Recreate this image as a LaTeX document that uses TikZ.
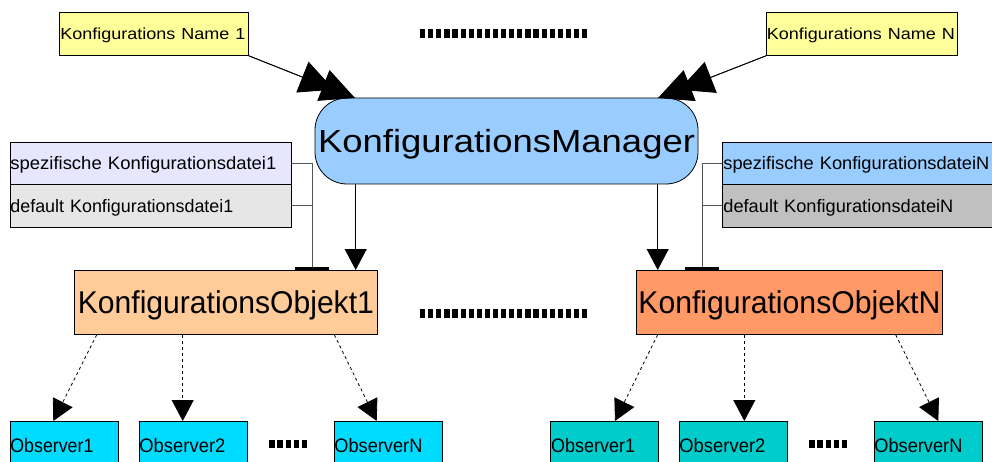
\documentclass[tikz,border=0pt]{standalone}
\usepackage{fontspec}
\setmainfont{Liberation Sans}
\usetikzlibrary{arrows.meta,calc}

% fit a text horizontally to a given width (in pt)
\newlength\fitlen
\newcommand\fitbox[2]{\settowidth\fitlen{#2}\pgfmathsetmacro\fitsx{#1/\fitlen}\scalebox{\fitsx}[1]{#2}}

\definecolor{nameY}{HTML}{FFFF99}
\definecolor{mgrB}{HTML}{99CCFF}
\definecolor{fileL}{HTML}{E6E6FF}
\definecolor{fileG}{HTML}{E6E6E6}
\definecolor{fileS}{HTML}{C0C0C0}
\definecolor{objA}{HTML}{FFCC99}
\definecolor{objB}{HTML}{FF9966}
\definecolor{obsA}{HTML}{00DCFF}
\definecolor{obsB}{HTML}{00CCCC}
\definecolor{connG}{HTML}{555555}

\tikzset{
  box/.style={draw=black, line width=0.8pt, inner sep=0pt, text depth=0pt, anchor=north west},
  namebox/.style={box, fill=nameY, minimum height=43pt, align=left, text height=11.5pt,
    font=\fontsize{16pt}{16pt}\selectfont},
  filebox/.style={box, text width=#1, align=left, text height=13pt,
    font=\fontsize{18pt}{18pt}\selectfont},
  objbox/.style={box, minimum width=#1, minimum height=64pt, text height=22.6pt,
    font=\fontsize{31.5pt}{31.5pt}\selectfont},
  obsbox/.style={box, text width=108pt, minimum height=49pt, align=left, text height=14pt,
    font=\fontsize{19.5pt}{19.5pt}\selectfont},
  arr/.style={draw=black, line width=0.8pt},
  bigtip/.style={arr, -{Triangle[length=34pt,width=33pt]}},
  downtip/.style={arr, -{Triangle[length=21pt,width=22pt]}},
  dasharr/.style={arr, dash pattern=on 3pt off 3pt, -{Triangle[length=21pt,width=22pt]}},
  fileconn/.style={draw=connG, line width=0.9pt},
  barend/.style={fileconn, -{Bar[width=34pt,line width=3.5pt,color=black]}},
  ellip/.style={draw=black, dash pattern=on 5.2pt off 2.9pt},
}

\begin{document}
\begin{tikzpicture}[x=1pt,y=-1pt]
\useasboundingbox (0,0) rectangle (992,462);
\clip (0,0) rectangle (992,462);

% configuration names
\node[namebox, text width=189pt] (n1) at (59,12) {\hspace*{1pt}\fitbox{185}{Konfigurations Name 1}};
\node[namebox, text width=191pt] (nN) at (766,12) {\hspace*{0.5pt}\fitbox{188}{Konfigurations Name N}};

% manager
\node[draw=black, line width=0.8pt, fill=mgrB, rounded corners=32pt, minimum width=383pt,
  minimum height=86pt, inner sep=0pt, text height=23pt, text depth=0pt,
  font=\fontsize{32pt}{32pt}\selectfont] (m) at (506.5,141) {\fitbox{377}{KonfigurationsManager}};

% configuration files
\node[filebox=281pt, fill=fileL, minimum height=42pt] (f1s) at (10,142) {\fitbox{266}{spezifische Konfigurationsdatei1}};
\node[filebox=281pt, fill=fileG, minimum height=43pt] (f1d) at (10,184) {\fitbox{223}{default Konfigurationsdatei1}};
\node[filebox=276pt, fill=mgrB, minimum height=42pt] (fNs) at (722,142) {\hspace*{1pt}\fitbox{266}{spezifische KonfigurationsdateiN}};
\node[filebox=276pt, fill=fileS, minimum height=43pt] (fNd) at (722,184) {\hspace*{1pt}\fitbox{230}{default KonfigurationsdateiN}};

% configuration objects
\node[objbox=303pt, fill=objA] (o1) at (74,270) {\fitbox{296}{KonfigurationsObjekt1}};
\node[objbox=306pt, fill=objB] (oN) at (636,270) {\fitbox{302}{KonfigurationsObjektN}};

% observers
\node[obsbox, fill=obsA] (ol1) at (10,421)  {\fitbox{83}{Observer1}};
\node[obsbox, fill=obsA] (ol2) at (139,421) {\fitbox{86}{Observer2}};
\node[obsbox, fill=obsA] (olN) at (334,421) {\fitbox{88}{ObserverN}};
\node[obsbox, fill=obsB] (or1) at (550,421) {\hspace*{0.7pt}\fitbox{84}{Observer1}};
\node[obsbox, fill=obsB] (or2) at (679,421) {\fitbox{86}{Observer2}};
\node[obsbox, fill=obsB] (orN) at (874,421) {\fitbox{88}{ObserverN}};

% names -> manager (double heads)
\coordinate (t1) at (355,98);
\coordinate (tN) at (658,98);
\draw[bigtip] (n1.south east) -- (t1);
\draw[bigtip, shorten >=22.6pt] (n1.south east) -- (t1);
\draw[bigtip] (nN.south west) -- (tN);
\draw[bigtip, shorten >=22.6pt] (nN.south west) -- (tN);

% manager -> objects
\coordinate (xa1) at (355.7,0);
\coordinate (xaN) at (657.7,0);
\draw[downtip] (m.south -| xa1) -- (o1.north -| xa1);
\draw[downtip] (m.south -| xaN) -- (oN.north -| xaN);

% files -> objects
\coordinate (j1) at (312,163);
\coordinate (jN) at (702,163);
\draw[barend] (f1s.east) -| (o1.north -| j1);
\draw[fileconn] (f1d.east) -- (f1d.east -| j1);
\draw[barend] (fNs.west) -| (oN.north -| jN);
\draw[fileconn] (fNd.west) -- (fNd.west -| jN);

% objects -> observers
\draw[dasharr] ($(o1.south west)+(22.7,0)$)  -- ($(ol1.north west)+(43.3,0)$);
\draw[dasharr] ($(o1.south west)+(108.7,0)$) -- ($(ol2.north west)+(43.7,0)$);
\draw[dasharr] ($(o1.south west)+(260.3,0)$) -- ($(olN.north west)+(42.7,0)$);
\draw[dasharr] ($(oN.south west)+(21.7,0)$)  -- ($(or1.north west)+(65,0)$);
\draw[dasharr] ($(oN.south west)+(108.3,0)$) -- ($(or2.north west)+(65.3,0)$);
\draw[dasharr] ($(oN.south west)+(259.7,0)$) -- ($(orN.north west)+(64.3,0)$);

% ellipsis marks
\coordinate (e1a) at (420,33.5);  \coordinate (e1b) at (588,33.5);
\coordinate (e2a) at (420,313.5); \coordinate (e2b) at (588,313.5);
\coordinate (e3a) at (269.3,444); \coordinate (e3b) at (307.3,444);
\coordinate (e4a) at (809.3,444); \coordinate (e4b) at (848.3,444);
\draw[ellip, line width=9.3pt] (e1a) -- (e1b);
\draw[ellip, line width=9.3pt] (e2a) -- (e2b);
\draw[ellip, line width=7.7pt] (e3a) -- (e3b);
\draw[ellip, line width=7.7pt] (e4a) -- (e4b);
\end{tikzpicture}
\end{document}
